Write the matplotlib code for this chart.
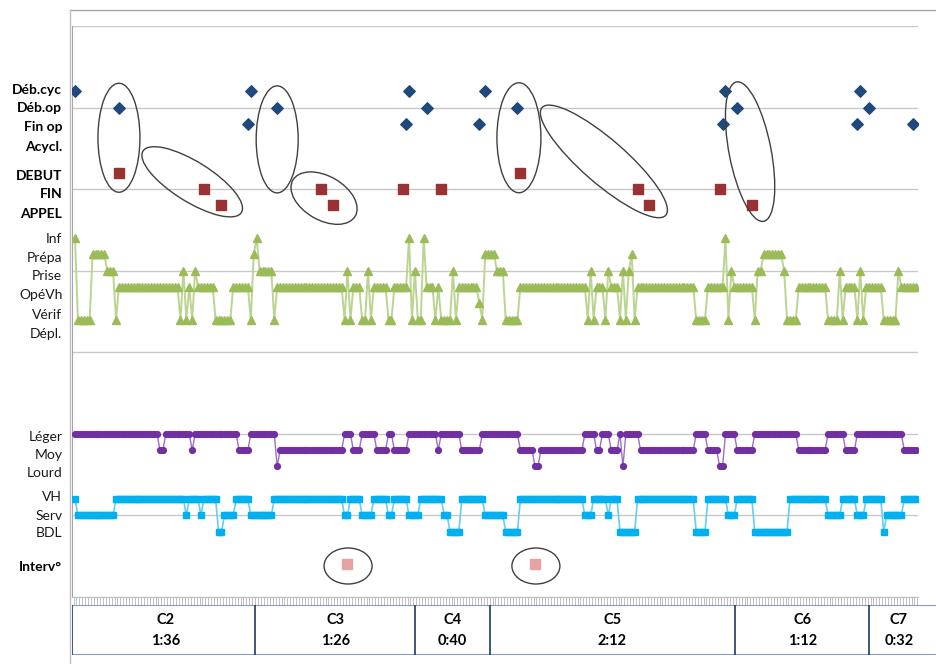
import numpy as np
import matplotlib
matplotlib.use('Agg')
import matplotlib.pyplot as plt
from matplotlib.patches import Ellipse
from matplotlib.lines import Line2D
from matplotlib.transforms import ScaledTranslation

plt.rcParams['font.family'] = ['Lato', 'DejaVu Sans']

# height of every state on the chart
LEVELS = {'Déb.cyc': 6.2, 'Déb.op': 6.0, 'Fin op': 5.8,
          'DEBUT': 5.2, 'FIN': 5.0, 'APPEL': 4.8,
          'Inf': 4.4, 'Prépa': 4.2, 'Prise': 4.0, 'OpéVh': 3.8, 'Vérif': 3.6, 'Dépl.': 3.4,
          'Léger': 2.0, 'Moy': 1.8, 'Lourd': 1.6,
          'VH': 1.2, 'Serv': 1.0, 'BDL': 0.8,
          'Interv°': 0.4}

# axis labels and where they sit
axis_labels = ['Déb.cyc', 'Déb.op', 'Fin op', 'Acycl.', 'DEBUT', 'FIN', 'APPEL',
               'Inf', 'Prépa', 'Prise', 'OpéVh', 'Vérif', 'Dépl.',
               'Léger', 'Moy', 'Lourd', 'VH', 'Serv', 'BDL', 'Interv°']
axis_label_pos = [6.23, 6.01, 5.77, 5.53, 5.17, 4.95, 4.71,
                  4.40, 4.17, 3.95, 3.71, 3.47, 3.24,
                  1.97, 1.75, 1.53, 1.24, 1.01, 0.80, 0.38]
bold_labels = ['Déb.cyc', 'Déb.op', 'Fin op', 'Acycl.', 'DEBUT', 'FIN', 'APPEL', 'Interv°']

# activity (green) as runs of (state, number of samples)
activity_codes = {'I': 'Inf', 'P': 'Prépa', 'R': 'Prise', 'O': 'OpéVh', 'V': 'Vérif', 'D': 'Dépl.'}
activity_runs = [('I', 1), ('D', 5), ('P', 5), ('R', 3), ('D', 1), ('O', 21), ('D', 1), ('R', 1),
                 ('D', 1), ('O', 1), ('D', 1), ('R', 1), ('O', 6), ('D', 6), ('O', 6), ('D', 1),
                 ('P', 1), ('I', 1), ('R', 5), ('D', 1), ('O', 23), ('D', 1), ('R', 1), ('D', 1),
                 ('O', 3), ('D', 2), ('R', 1), ('D', 1), ('O', 5), ('D', 2), ('O', 5), ('I', 1),
                 ('D', 1), ('R', 1), ('D', 2), ('I', 1), ('O', 3), ('D', 1), ('O', 1), ('D', 4),
                 ('R', 1), ('D', 1), ('O', 7), ('V', 1), ('D', 1), ('P', 4), ('R', 3), ('D', 5),
                 ('O', 23), ('D', 1), ('R', 1), ('D', 1), ('O', 3), ('D', 1), ('R', 1), ('O', 3),
                 ('D', 1), ('R', 1), ('D', 1), ('R', 1), ('P', 1), ('D', 1), ('O', 20), ('D', 4),
                 ('O', 6), ('I', 1), ('D', 1), ('R', 1), ('O', 7), ('D', 1), ('R', 2), ('P', 7),
                 ('R', 1), ('D', 4), ('O', 10), ('D', 4), ('R', 1), ('D', 1), ('O', 4), ('D', 1),
                 ('R', 1), ('D', 1), ('O', 6), ('D', 5), ('R', 1), ('O', 6)]

# load (purple)
load_codes = {'L': 'Léger', 'M': 'Moy', 'H': 'Lourd'}
load_runs = [('L', 29), ('M', 2), ('L', 9), ('M', 1), ('L', 15), ('M', 4), ('L', 9), ('H', 1),
             ('M', 22), ('L', 3), ('M', 3), ('L', 5), ('M', 4), ('L', 2), ('M', 5), ('L', 10),
             ('M', 1), ('L', 7), ('M', 7), ('L', 13), ('M', 5), ('H', 2), ('M', 15), ('L', 4),
             ('M', 2), ('L', 3), ('M', 3), ('L', 1), ('H', 1), ('L', 5), ('M', 19), ('L', 4),
             ('M', 4), ('H', 2), ('L', 4), ('M', 6), ('L', 15), ('M', 10), ('L', 6), ('M', 4),
             ('L', 16), ('M', 5)]

# place (blue)
place_codes = {'V': 'VH', 'S': 'Serv', 'B': 'BDL'}
place_runs = [('V', 1), ('S', 13), ('V', 24), ('S', 1), ('V', 4), ('S', 1), ('V', 5), ('B', 2),
              ('S', 4), ('V', 5), ('S', 8), ('V', 24), ('S', 2), ('V', 4), ('S', 4), ('V', 5),
              ('S', 2), ('V', 5), ('S', 4), ('V', 8), ('S', 2), ('B', 4), ('V', 8), ('S', 7),
              ('B', 5), ('V', 22), ('S', 3), ('V', 5), ('S', 1), ('V', 3), ('B', 6), ('V', 20),
              ('B', 4), ('V', 7), ('S', 3), ('V', 6), ('B', 12), ('V', 13), ('S', 5), ('V', 5),
              ('S', 3), ('V', 6), ('B', 1), ('S', 6), ('V', 5)]

# single events: (sample, state)
cycle_events = [(0, 'Déb.cyc'), (15, 'Déb.op'), (59, 'Fin op'), (60, 'Déb.cyc'), (69, 'Déb.op'),
                (113, 'Fin op'), (114, 'Déb.cyc'), (120, 'Déb.op'), (138, 'Fin op'),
                (140, 'Déb.cyc'), (151, 'Déb.op'), (221, 'Fin op'), (222, 'Déb.cyc'),
                (226, 'Déb.op'), (267, 'Fin op'), (268, 'Déb.cyc'), (271, 'Déb.op'),
                (286, 'Fin op')]
call_events = [(15, 'DEBUT'), (44, 'FIN'), (50, 'APPEL'), (84, 'FIN'), (88, 'APPEL'),
               (112, 'FIN'), (125, 'FIN'), (152, 'DEBUT'), (192, 'FIN'), (196, 'APPEL'),
               (220, 'FIN'), (231, 'APPEL')]
interv_events = [(93, 'Interv°'), (157, 'Interv°')]

# hand-drawn circles: centre (sample, level), width/height in px, angle
circles = [(15, 5.63, 42, 109, 0), (40, 5.09, 116, 40, -32), (69, 5.61, 42, 107, 0),
           (85, 4.89, 72, 44, -30), (151.5, 5.63, 44, 110, 0), (180.5, 5.34, 164, 44, -41),
           (230.4, 5.46, 142, 42, 101), (93.2, 0.38, 48, 36, 0), (157.3, 0.38, 48, 36, 0)]

# cycles table
cycle_names = ['C2', 'C3', 'C4', 'C5', 'C6', 'C7']
cycle_times = ['1:36', '1:26', '0:40', '2:12', '1:12', '0:32']


def expand(runs, codes):
    vals = []
    for code, n in runs:
        vals += [LEVELS[codes[code]]] * n
    return np.array(vals)


activity = expand(activity_runs, activity_codes)
load = expand(load_runs, load_codes)
place = expand(place_runs, place_codes)

W, H = 936, 664
fig = plt.figure(figsize=(W / 100, H / 100), dpi=100)
ax = fig.add_axes([72 / W, 67 / H, 846 / W, 571 / H])
ax.set_xlim(-1.02, 287.7)
ax.set_ylim(0, 7)

ax.plot(np.arange(len(activity)), activity, color='#BCD492', lw=1.4, marker='^', ms=5.5,
        mfc='#9BBB59', mec='#9BBB59', zorder=3)
ax.plot(np.arange(len(load)), load, color='#9C70C4', lw=1.0, marker='o', ms=4.2,
        mfc='#7030A0', mec='#7030A0', zorder=3)
ax.plot(np.arange(len(place)), place, color='#66CDF5', lw=1.2, marker='s', ms=5,
        mfc='#00B0F0', mec='#00B0F0', zorder=3)

ax.scatter([e[0] for e in cycle_events], [LEVELS[e[1]] for e in cycle_events],
           marker='D', s=34, color='#1F497D', zorder=4)
ax.scatter([e[0] for e in call_events], [LEVELS[e[1]] for e in call_events],
           marker='s', s=55, color='#993333', zorder=4)
ax.scatter([e[0] for e in interv_events], [LEVELS[e[1]] for e in interv_events],
           marker='s', s=50, color='#E6A3A3', zorder=4)

for cx, cy, w, h, ang in circles:
    tr = fig.dpi_scale_trans + ScaledTranslation(cx, cy, ax.transData)
    ax.add_patch(Ellipse((0, 0), w / 100, h / 100, angle=ang, transform=tr,
                         fill=False, ec='#404040', lw=1.0, zorder=5, clip_on=False))

ax.set_yticks(axis_label_pos)
ax.set_yticklabels(axis_labels, fontsize=10, color='#1a1a1a')
for t in ax.get_yticklabels():
    if t.get_text() in bold_labels:
        t.set_fontweight('bold')
        t.set_color('black')
ax.tick_params(axis='y', length=0, pad=7)
ax.set_yticks(range(0, 8), minor=True)
ax.tick_params(axis='y', which='minor', length=0)
ax.grid(which='minor', axis='y', color='#C8C8C8', lw=1.0)
ax.set_axisbelow(True)

ax.set_xticks(np.arange(0, 289) - 0.5)
ax.set_xticklabels([])
ax.tick_params(axis='x', direction='out', length=6, width=0.7, color='#C0C0C0')

for s in ['top', 'right']:
    ax.spines[s].set_visible(False)
ax.spines['bottom'].set_color('#BFBFBF')
ax.spines['left'].set_color('#A6A6A6')

# sheet border lines
fig.add_artist(Line2D([69.5 / W, 1], [1 - 10 / H] * 2, color='#A6A6A6', lw=1))
fig.add_artist(Line2D([69.5 / W] * 2, [0, 1 - 10 / H], color='#BFBFBF', lw=1))

# cycles table under the chart
secs = [int(t.split(':')[0]) * 60 + int(t.split(':')[1]) for t in cycle_times]
edges = np.concatenate([[0], np.cumsum(secs)])
tax = fig.add_axes([72 / W, 9 / H, 864 / W, 50 / H])
tax.set_xlim(-2.4, 461.9)
tax.set_ylim(0, 1)
tax.axis('off')
tax.axhline(1, color='#7F9CC8', lw=1.5)
tax.axhline(0, color='#7F9CC8', lw=1.5)
tax.axvline(-2.4, color='#203864', lw=1.2)
for e in edges[1:-1]:
    tax.axvline(e, color='#203864', lw=1.2)
for i, name in enumerate(cycle_names):
    mid = (edges[i] + min(edges[i + 1], 461.9)) / 2
    tax.text(mid, 0.7, name, ha='center', va='center', fontsize=10.5, fontweight='bold')
    tax.text(mid, 0.28, cycle_times[i], ha='center', va='center', fontsize=10.5,
             fontweight='bold')

fig.savefig('out.png', dpi=100)
